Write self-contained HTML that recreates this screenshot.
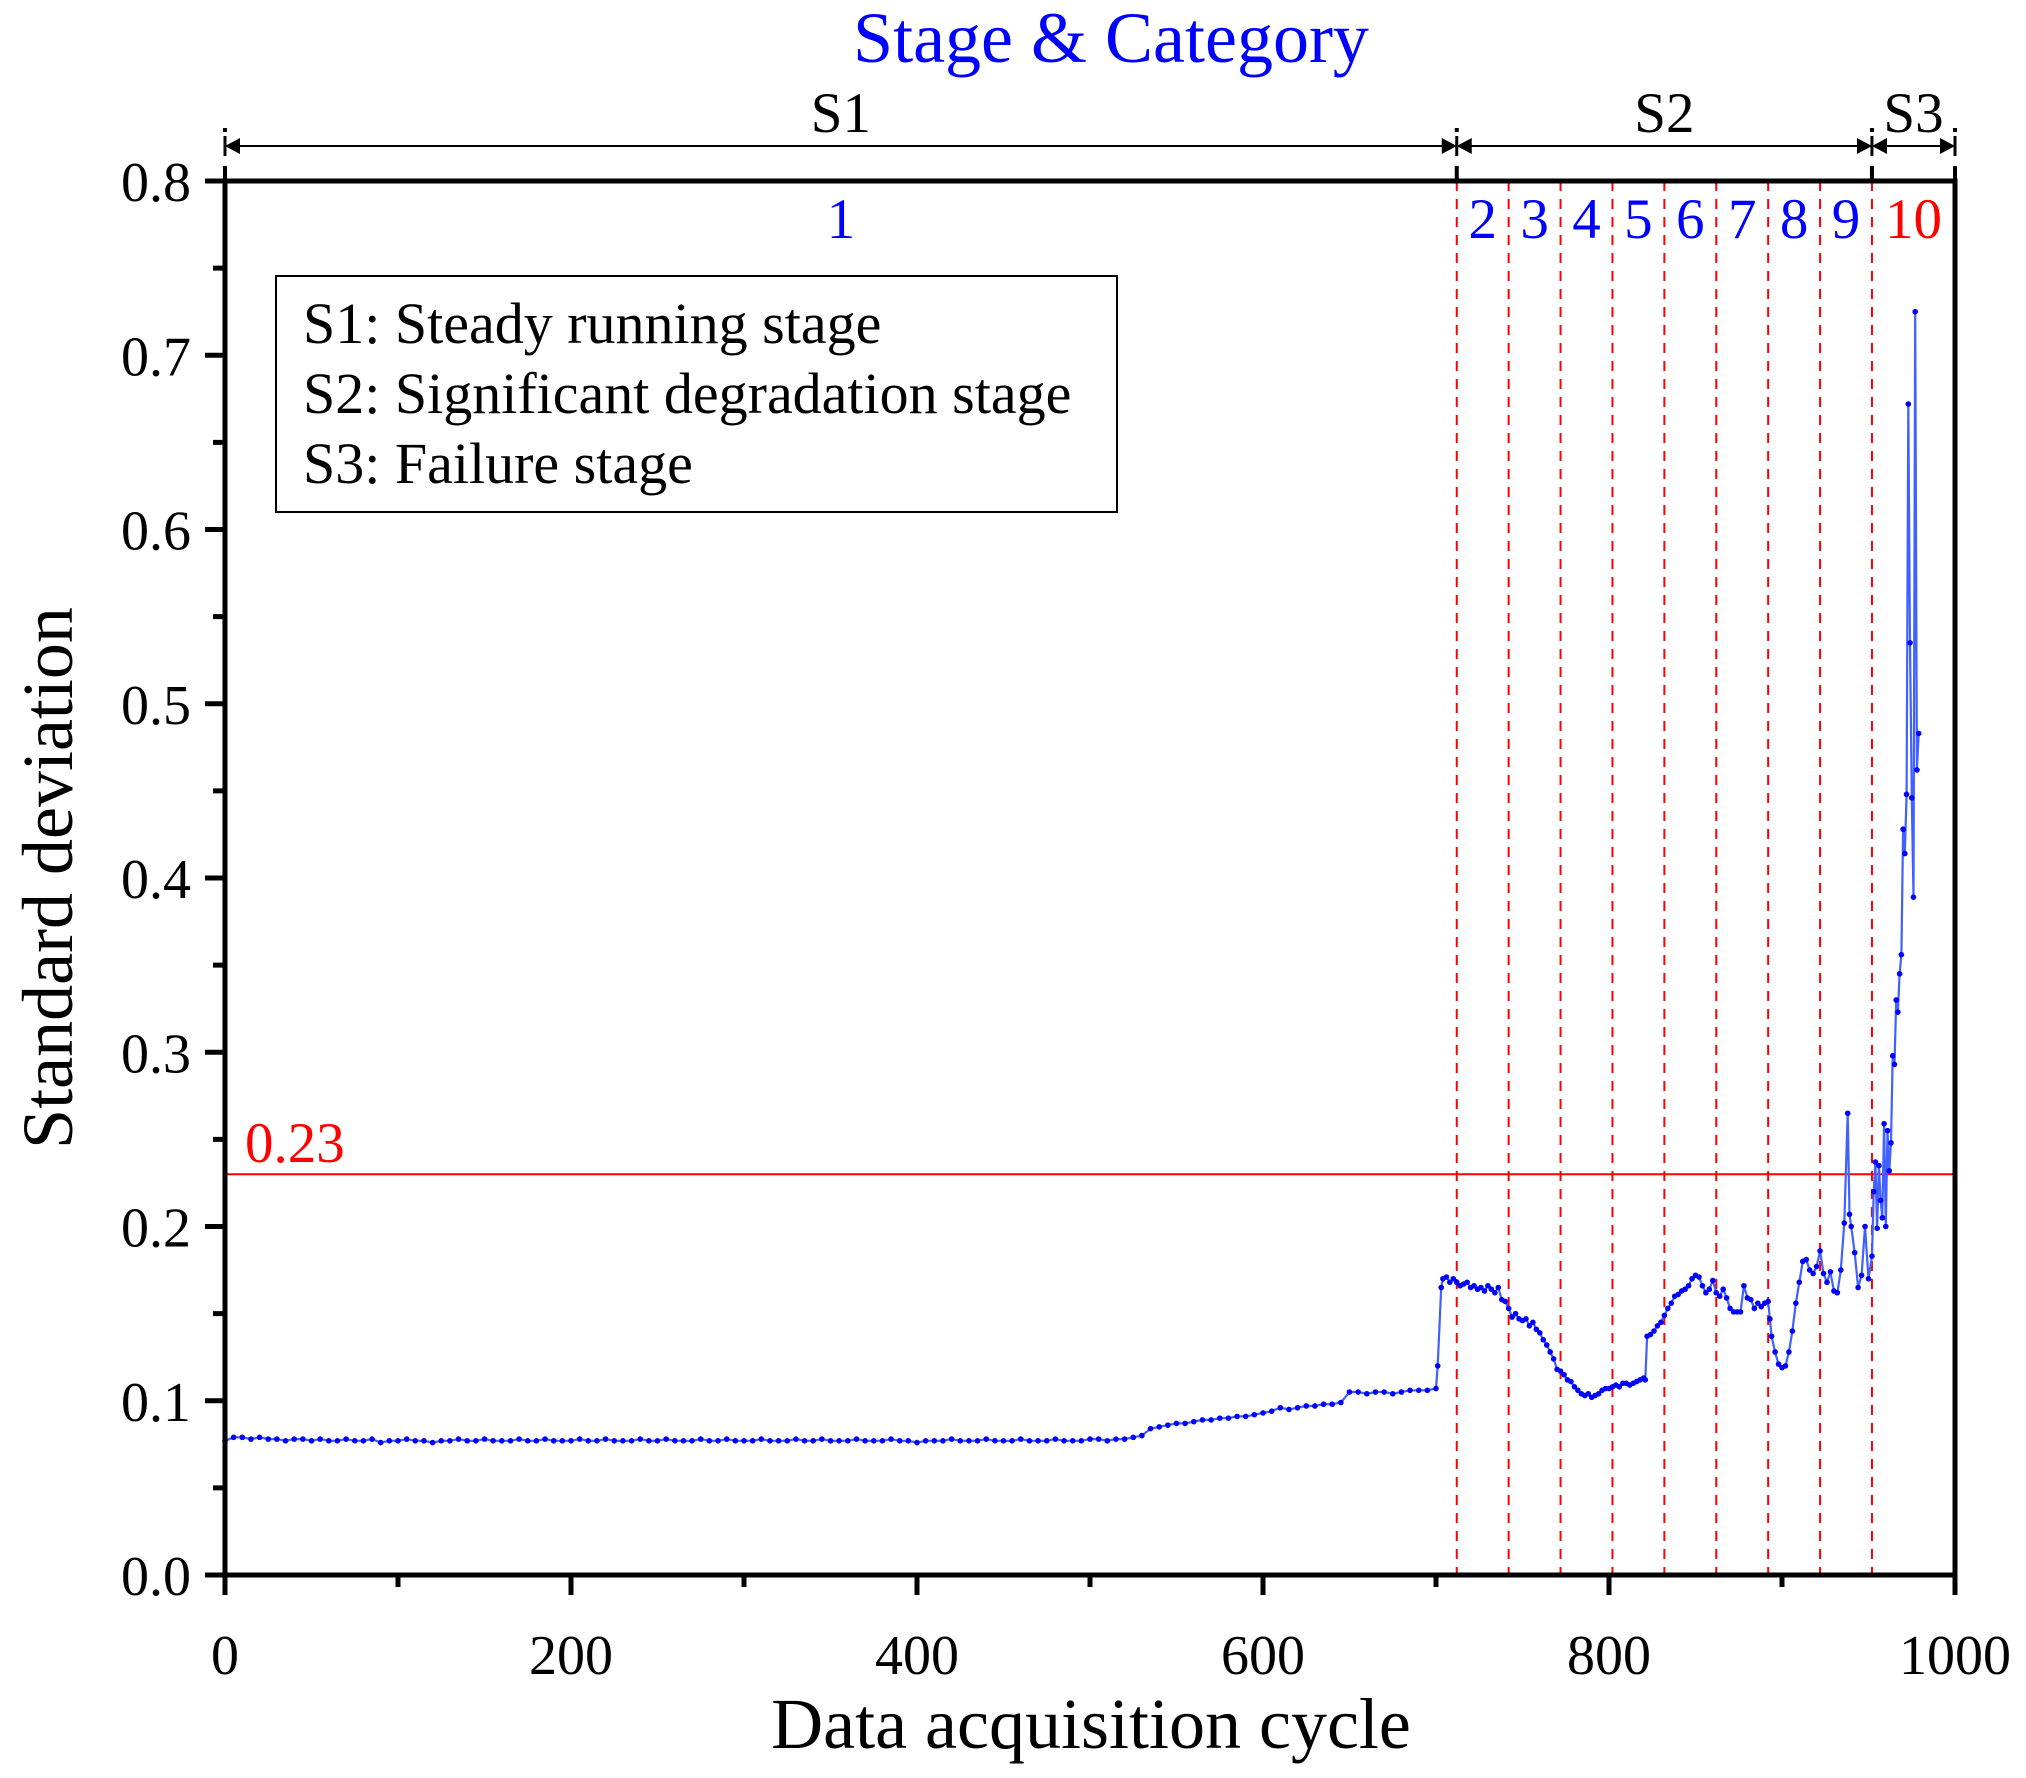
<!DOCTYPE html>
<html><head><meta charset="utf-8"><style>
html,body{margin:0;padding:0;background:#fff}
svg{display:block}
text{font-family:"Liberation Serif",serif}
</style></head><body>
<svg id="chart" width="2026" height="1778" viewBox="0 0 2026 1778" xmlns="http://www.w3.org/2000/svg">
<text x="1111" y="62" font-size="72" fill="#0000ff" text-anchor="middle">Stage &amp; Category</text>
<g id="stages"></g>
<g id="grid"></g>
<g id="thresh"></g>
<g id="series"></g>
<g id="axes"></g>
<g>
<rect x="276" y="276" width="841" height="236" fill="#fff" stroke="#000" stroke-width="2"/>
<text x="303" y="343" font-size="58">S1: Steady running stage</text>
<text x="303" y="413" font-size="58">S2: Significant degradation stage</text>
<text x="303" y="483" font-size="58">S3: Failure stage</text>
</g>
<text transform="translate(72,878) rotate(-90)" font-size="72" text-anchor="middle">Standard deviation</text>
<text x="1091" y="1748" font-size="72" text-anchor="middle">Data acquisition cycle</text>
</svg>
<script>
const cycles = [0,5,10,15,20,25,30,35,40,45,50,55,60,65,70,75,80,85,90,95,100,105,110,115,120,125,130,135,140,145,150,155,160,165,170,175,180,185,190,195,200,205,210,215,220,225,230,235,240,245,250,255,260,265,270,275,280,285,290,295,300,305,310,315,320,325,330,335,340,345,350,355,360,365,370,375,380,385,390,395,400,405,410,415,420,425,430,435,440,445,450,455,460,465,470,475,480,485,490,495,500,505,510,515,520,525,530,535,540,545,550,555,560,565,570,575,580,585,590,595,600,605,610,615,620,625,630,635,640,645,650,655,660,665,670,675,680,685,690,695,700,701,703,704,706,708,710,712,714,716,718,720,722,724,726,728,730,732,734,736,738,740,742,744,746,748,750,752,754,756,758,760,762,764,766,768,770,772,774,776,778,780,782,784,786,788,790,792,794,796,798,800,802,804,806,808,810,812,814,816,818,820,821,822,824,826,828,830,832,834,836,838,840,842,844,846,848,850,852,854,856,858,860,862,864,866,868,870,872,874,876,878,880,882,884,886,888,890,892,893,894,896,898,900,902,904,906,908,910,912,914,916,918,920,922,924,926,928,930,932,934,936,938,939,940,942,944,946,948,950,952,953,954,955,956,957,958,959,960,961,962,963,964,965,966,967,968,969,970,971,972,973,974,975,976,977,978,979];
const values = [0.077,0.079,0.079,0.078,0.079,0.078,0.078,0.077,0.078,0.078,0.077,0.078,0.077,0.077,0.078,0.077,0.077,0.078,0.076,0.077,0.077,0.078,0.077,0.077,0.076,0.077,0.077,0.078,0.077,0.077,0.078,0.077,0.077,0.077,0.078,0.077,0.077,0.078,0.077,0.077,0.077,0.078,0.077,0.077,0.078,0.077,0.077,0.077,0.078,0.077,0.077,0.078,0.077,0.077,0.077,0.078,0.077,0.077,0.078,0.077,0.077,0.077,0.078,0.077,0.077,0.077,0.078,0.077,0.077,0.078,0.077,0.077,0.077,0.078,0.077,0.077,0.077,0.078,0.077,0.077,0.076,0.077,0.077,0.077,0.078,0.077,0.077,0.077,0.078,0.077,0.077,0.077,0.078,0.077,0.077,0.077,0.078,0.077,0.077,0.077,0.078,0.078,0.077,0.078,0.078,0.079,0.080,0.084,0.085,0.086,0.087,0.087,0.088,0.089,0.089,0.090,0.090,0.091,0.091,0.092,0.093,0.094,0.096,0.095,0.096,0.097,0.097,0.098,0.098,0.099,0.105,0.105,0.104,0.105,0.105,0.104,0.105,0.106,0.106,0.106,0.107,0.120,0.165,0.170,0.171,0.168,0.170,0.168,0.166,0.167,0.168,0.165,0.166,0.164,0.165,0.163,0.166,0.164,0.162,0.165,0.158,0.157,0.153,0.148,0.150,0.147,0.146,0.147,0.143,0.145,0.141,0.139,0.135,0.132,0.128,0.124,0.118,0.117,0.115,0.112,0.111,0.108,0.106,0.104,0.103,0.104,0.102,0.103,0.104,0.106,0.107,0.107,0.108,0.109,0.108,0.110,0.110,0.109,0.110,0.111,0.112,0.113,0.112,0.137,0.138,0.140,0.143,0.145,0.149,0.153,0.156,0.160,0.161,0.163,0.164,0.166,0.170,0.172,0.171,0.166,0.162,0.164,0.169,0.162,0.160,0.164,0.159,0.153,0.151,0.151,0.151,0.166,0.159,0.158,0.153,0.156,0.154,0.156,0.157,0.147,0.137,0.128,0.121,0.119,0.120,0.128,0.140,0.156,0.168,0.180,0.181,0.175,0.173,0.177,0.186,0.173,0.168,0.174,0.163,0.162,0.175,0.202,0.265,0.207,0.200,0.185,0.165,0.172,0.200,0.170,0.183,0.220,0.237,0.199,0.235,0.215,0.205,0.259,0.200,0.255,0.232,0.248,0.298,0.293,0.330,0.323,0.345,0.356,0.428,0.414,0.448,0.672,0.535,0.446,0.389,0.725,0.462,0.483];
const yTicks = [0.0,0.1,0.2,0.3,0.4,0.5,0.6,0.7,0.8];
const xTicks = [0,200,400,600,800,1000];
const dividers = [712,742,772,802,832,862,892,922,952];
const categoryLabels = ["1","2","3","4","5","6","7","8","9","10"];
const stageBounds = [0,712,952,1000];
const stageLabels = ["S1","S2","S3"];
const threshold = [0.23];

const NS="http://www.w3.org/2000/svg";
const X0=225,X1=1955,Y0=1575,Y1=181;
const sx=v=>X0+(v/1000)*(X1-X0);
const sy=v=>Y0-(v/0.8)*(Y0-Y1);
function mk(tag,parent,attrs){const e=document.createElementNS(NS,tag);for(const k in attrs)e.setAttribute(k,attrs[k]);parent.appendChild(e);return e;}

const grid=document.getElementById('grid');
dividers.forEach(d=>{
  const l=mk('line',grid,{x1:sx(d),x2:sx(d),y1:Y1,y2:Y0,stroke:'#ff0000','stroke-width':2,'stroke-dasharray':'10,8'});
  
  
});
const edges=[0].concat(dividers,[1000]);
categoryLabels.forEach((c,i)=>{
  const t=mk('text',grid,{x:(sx(edges[i])+sx(edges[i+1]))/2,y:238,'font-size':57,'text-anchor':'middle',fill:i===9?'#ff0000':'#0000ff'});
  t.textContent=c;
  
  
});

const th=document.getElementById('thresh');
threshold.forEach(v=>{
  const l=mk('line',th,{x1:X0,x2:X1,y1:sy(v),y2:sy(v),stroke:'#ff0000','stroke-width':2});
  
  
  const t=mk('text',th,{x:245,y:sy(v)-12,'font-size':57,fill:'#ff0000'});
  t.textContent=v.toFixed(2);
  
  
});

const sg=document.getElementById('series');
const pts=cycles.map((c,i)=>sx(c).toFixed(1)+','+sy(values[i]).toFixed(1)).join(' ');
const pl=mk('polyline',sg,{points:pts,fill:'none',stroke:'#4060ff','stroke-width':2.2});


cycles.forEach((c,i)=>{
  const p=mk('circle',sg,{cx:sx(c),cy:sy(values[i]),r:2.8,fill:'#0000ff'});
  
  
});

const st=document.getElementById('stages');
const AY=146;
stageLabels.forEach((s,i)=>{
  const a=sx(stageBounds[i]),b=sx(stageBounds[i+1]);
  const l=mk('line',st,{x1:a,x2:b,y1:AY,y2:AY,stroke:'#000','stroke-width':2});
  
  
  mk('polygon',st,{points:`${a},${AY} ${a+15},${AY-8} ${a+15},${AY+8}`,fill:'#000'});
  mk('polygon',st,{points:`${b},${AY} ${b-15},${AY-8} ${b-15},${AY+8}`,fill:'#000'});
  const t=mk('text',st,{x:(a+b)/2,y:132,'font-size':57,'text-anchor':'middle'});
  t.textContent=s;
  
  
});
stageBounds.forEach(v=>{
  mk('rect',st,{x:sx(v)-2,y:128,width:4,height:4,fill:'#000'});
  mk('line',st,{x1:sx(v),x2:sx(v),y1:136,y2:156,stroke:'#000','stroke-width':3});
  mk('line',st,{x1:sx(v),x2:sx(v),y1:166,y2:181,stroke:'#000','stroke-width':4});
});

const ax=document.getElementById('axes');
mk('rect',ax,{x:X0,y:Y1,width:X1-X0,height:Y0-Y1,fill:'none',stroke:'#000','stroke-width':5});
yTicks.forEach(v=>{
  mk('line',ax,{x1:X0-20,x2:X0,y1:sy(v),y2:sy(v),stroke:'#000','stroke-width':5});
  const t=mk('text',ax,{x:X0-34,y:sy(v)+20,'font-size':56,'text-anchor':'end'});
  t.textContent=v.toFixed(1);
  
  
});
for(let v=0.05;v<0.8;v+=0.1){mk('line',ax,{x1:X0-12,x2:X0,y1:sy(v),y2:sy(v),stroke:'#000','stroke-width':5});}
xTicks.forEach(v=>{
  mk('line',ax,{x1:sx(v),x2:sx(v),y1:Y0,y2:Y0+20,stroke:'#000','stroke-width':5});
  const t=mk('text',ax,{x:sx(v),y:1674,'font-size':56,'text-anchor':'middle'});
  t.textContent=v;
  
  
});
for(let v=100;v<1000;v+=200){mk('line',ax,{x1:sx(v),x2:sx(v),y1:Y0,y2:Y0+12,stroke:'#000','stroke-width':5});}
</script>
</body></html>
